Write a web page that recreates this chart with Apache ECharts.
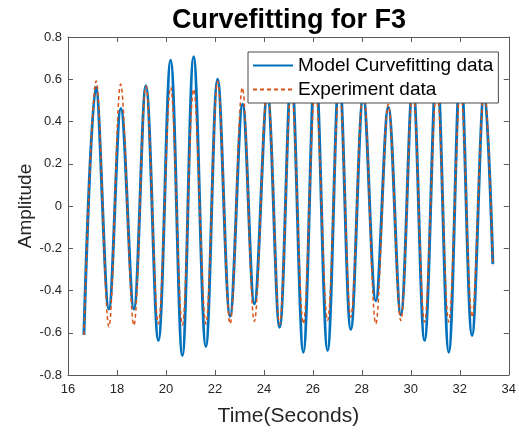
<!DOCTYPE html>
<html>
<head>
<meta charset="utf-8">
<script src="https://cdn.jsdelivr.net/npm/echarts@6/dist/echarts.min.js"></script>
<style>html,body{margin:0;padding:0;background:#fff}#c{width:519px;height:434px}</style>
</head>
<body>
<div id="c"></div>
<script>
// Extrema (peaks / troughs)
const modelTime = [16.65,17.14,17.67,18.16,18.69,19.18,19.69,20.19,20.67,21.13,21.63,22.11,22.62,23.13,23.61,24.14,24.64,25.12,25.61,26.10,26.60,27.08,27.55,28.06,28.57,29.08,29.59,30.08,30.56,31.06,31.55,32.03,32.50,33.00,33.35];
const modelAmp  = [-0.61,0.561,-0.487,0.462,-0.487,0.569,-0.637,0.690,-0.708,0.706,-0.665,0.600,-0.522,0.482,-0.463,0.53,-0.574,0.62,-0.692,0.68,-0.684,0.62,-0.585,0.52,-0.448,0.467,-0.515,0.58,-0.637,0.66,-0.692,0.66,-0.613,0.55,-0.274];
const expTime = [16.65,17.15,17.67,18.15,18.69,19.18,19.69,20.19,20.67,21.13,21.63,22.11,22.62,23.12,23.61,24.14,24.64,25.12,25.61,26.10,26.60,27.08,27.55,28.06,28.57,29.08,29.59,30.08,30.56,31.06,31.55,32.03,32.50,33.00,33.35];
const expAmp  = [-0.61,0.592,-0.572,0.577,-0.565,0.567,-0.558,0.562,-0.563,0.553,-0.558,0.59,-0.558,0.56,-0.547,0.57,-0.56,0.56,-0.558,0.56,-0.542,0.56,-0.526,0.56,-0.558,0.482,-0.542,0.56,-0.549,0.56,-0.549,0.56,-0.526,0.56,-0.28];
const xTicks = {min:16, max:34, interval:2};
const yTicks = {min:-0.8, max:0.8, interval:0.2};
const seriesNames = ['Model Curvefitting data','Experiment data'];

const zip = (a,b) => a.map((t,i)=>[t,b[i]]);
const FONT = '"Liberation Sans", Arial, Helvetica, sans-serif';
const axisColor = '#5a5a5a';
const fmtY = v => String(+(+v).toFixed(1));

const chart = echarts.init(document.getElementById('c'), null, {renderer:'canvas'});
const baseX = {
  type:'value', min:xTicks.min, max:xTicks.max, interval:xTicks.interval,
  axisLine:{show:true, onZero:false, lineStyle:{color:axisColor, width:1}},
  axisTick:{show:true, inside:true, length:5, lineStyle:{color:axisColor}},
  splitLine:{show:false}
};
const baseY = {
  type:'value', min:yTicks.min, max:yTicks.max, interval:yTicks.interval,
  axisLine:{show:true, onZero:false, lineStyle:{color:axisColor, width:1}},
  axisTick:{show:true, inside:true, length:5, lineStyle:{color:axisColor}},
  splitLine:{show:false}
};
chart.setOption({
  animation:false,
  backgroundColor:'#fff',
  title:{text:'Curvefitting for F3', left:284, top:2, textAlign:'center',
    textStyle:{fontFamily:FONT, fontSize:27, fontWeight:'bold', color:'#000'}},
  grid:{left:68, right:9, top:37, bottom:59},
  legend:{
    data:seriesNames, orient:'vertical', left:248, top:52,
    backgroundColor:'#fff', borderColor:'#4a4a4a', borderWidth:1,
    padding:[4,5,4,4], itemWidth:40, itemHeight:14, itemGap:5,
    itemStyle:{opacity:0},
    textStyle:{fontFamily:FONT, fontSize:19, color:'#000'}, z:10
  },
  xAxis:[
    Object.assign({}, baseX, {position:'bottom',
      axisLabel:{show:true, margin:8, fontFamily:FONT, fontSize:13, color:'#262626'},
      name:'Time(Seconds)', nameLocation:'middle', nameGap:31, nameMoveOverlap:false,
      nameTextStyle:{fontFamily:FONT, fontSize:21, color:'#262626'}}),
    Object.assign({}, baseX, {position:'top', axisLabel:{show:false}})
  ],
  yAxis:[
    Object.assign({}, baseY, {position:'left',
      axisLabel:{show:true, margin:6, fontFamily:FONT, fontSize:13, color:'#262626', formatter:fmtY},
      name:'Amplitude', nameLocation:'middle', nameGap:33, nameMoveOverlap:false,
      nameTextStyle:{fontFamily:FONT, fontSize:19, color:'#262626'}}),
    Object.assign({}, baseY, {position:'right', axisLabel:{show:false}})
  ],
  series:[
    {name:seriesNames[0], type:'line', data:zip(modelTime, modelAmp), smooth:0.36,
      showSymbol:false, symbol:'none', color:'#0072BD',
      lineStyle:{width:3, color:'#0072BD'}, z:2},
    {name:seriesNames[1], type:'line', data:zip(expTime, expAmp), smooth:0.36,
      showSymbol:false, symbol:'none', color:'#D95319',
      lineStyle:{width:1.5, color:'#D95319', type:[4,3]}, z:3}
  ]
});
</script>
</body>
</html>
